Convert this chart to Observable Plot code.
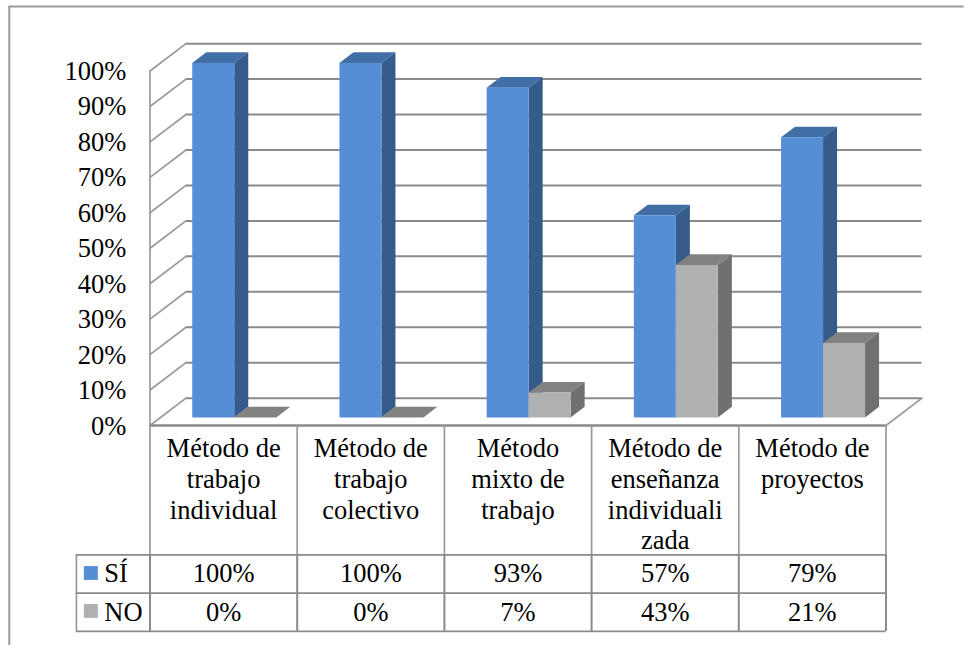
<!DOCTYPE html>
<html><head><meta charset="utf-8">
<style>html,body{margin:0;padding:0;background:#fff;overflow:hidden}svg{display:block}</style>
<script src="https://cdn.jsdelivr.net/npm/d3@7"></script>
<script src="https://cdn.jsdelivr.net/npm/@observablehq/plot@0.6"></script>
</head><body><div id="chart"></div>
<script>
const categories = ["Método de\ntrabajo\nindividual","Método de\ntrabajo\ncolectivo","Método\nmixto de\ntrabajo","Método de\nenseñanza\nindividuali\nzada","Método de\nproyectos"];
const si = [100,100,93,57,79];
const no = [0,0,7,43,21];
const yTicks = [0,10,20,30,40,50,60,70,80,90,100];
const seriesNames = ["SÍ","NO"];
const faces = {
  SI:{front:"#558ed5",top:"#426ea6",side:"#355b8a"},
  NO:{front:"#b0b0b0",top:"#828282",side:"#707070"}
};
// wall depth, in chart units, and the bar placement inside it
const wallX = 0.2446, wallY = 7.72;
const d0 = 0.296, d1 = 0.685, gap = 0.2147, barW = 0.2853;
const px = (c,d)=>c+d*wallX, py=(v,d)=>v+d*wallY;

const polys = [];
function addPoly(id,color,pts){pts.forEach(([c,v,d])=>polys.push({id,color,x:px(c,d),y:py(v,d)}));}
categories.forEach((_,i)=>{
  [["SI",si[i],0],["NO",no[i],1]].forEach(([s,v,k])=>{
    const a=i+gap+k*barW, b=a+barW, f=faces[s], id=`${i}-${s}-`;
    addPoly(id+"top",f.top,[[a,v,d0],[b,v,d0],[b,v,d1],[a,v,d1]]);
    addPoly(id+"side",f.side,[[b,0,d0],[b,v,d0],[b,v,d1],[b,0,d1]]);
    addPoly(id+"front",f.front,[[a,0,d0],[b,0,d0],[b,v,d0],[a,v,d0]]);
  });
});
const backGrid = yTicks.map(v=>({v}));
const walls = yTicks.flatMap(v=>[{id:v,x:px(0,0),y:py(v,0)},{id:v,x:px(0,1),y:py(v,1)}]);
const floorR = [{x:px(5,0),y:0},{x:px(5,1),y:py(0,1)}];
const rowY = {head:-36.5, si:-47.3, no:-58.1, siMid:-41.8, noMid:-52.7};
const legendLeft=-0.5;
const grid="#8a8a8a", font="Liberation Serif", txt="#000";

const plot = Plot.plot({
  width:964,height:645,margin:0,
  x:{type:"linear",domain:[0,5],range:[149.5,885.5],axis:null},
  y:{type:"linear",domain:[0,100],range:[425,70.5],axis:null},
  color:{type:"identity"},
  style:{background:"transparent"},
  marks:[
    // outer frame
    Plot.ruleX([-0.956],{y1:-62.1,y2:118.2,stroke:"#999",strokeWidth:2}),
    Plot.ruleY([118.2],{x1:-0.956,x2:5.53,stroke:"#999",strokeWidth:2}),
    // walls and grid
    Plot.ruleY(backGrid,{y:d=>py(d.v,1),x1:px(0,1),x2:px(5,1),stroke:grid,strokeWidth:2}),
    Plot.line(walls,{x:"x",y:"y",z:"id",stroke:"#9a9a9a",strokeWidth:1.7}),
    Plot.line(floorR,{x:"x",y:"y",stroke:"#9a9a9a",strokeWidth:1.7}),
    Plot.ruleX([0],{y1:0,y2:100,stroke:"#9a9a9a",strokeWidth:1.7}),
    // bars
    Plot.line(polys,{x:"x",y:"y",z:"id",fill:"color",stroke:null}),
    // table
    Plot.ruleY([0],{x1:0,x2:5,stroke:grid,strokeWidth:2.5}),
    Plot.ruleX(d3.range(0,6),{y1:0,y2:rowY.head,stroke:"#999",strokeWidth:1.7}),
    Plot.ruleX(d3.range(0,6),{y1:rowY.head,y2:rowY.no,stroke:grid,strokeWidth:2}),
    Plot.ruleX([legendLeft],{y1:rowY.head,y2:rowY.no,stroke:"#999",strokeWidth:1.7}),
    Plot.ruleY([rowY.head,rowY.si,rowY.no],{x1:legendLeft,x2:5,stroke:grid,strokeWidth:1.8}),
    // y tick labels
    Plot.text(yTicks,{x:-0.161,y:d=>d-0.15,text:d=>d+"%",textAnchor:"end",fontFamily:font,fontSize:26.5,fill:txt}),
    // category labels
    Plot.text(categories,{x:(d,i)=>i+0.5,y:-2.75,text:d=>d,lineAnchor:"top",lineHeight:1.16,fontFamily:font,fontSize:26.5,fill:txt}),
    // values
    Plot.text(si,{x:(d,i)=>i+0.5,y:rowY.siMid,text:d=>d+"%",fontFamily:font,fontSize:26.5,fill:txt}),
    Plot.text(no,{x:(d,i)=>i+0.5,y:rowY.noMid,text:d=>d+"%",fontFamily:font,fontSize:26.5,fill:txt}),
    // legend
    Plot.rect([0],{x1:-0.446,x2:-0.351,y1:-39.8,y2:-43.7,fill:faces.SI.front}),
    Plot.rect([0],{x1:-0.446,x2:-0.351,y1:-50.5,y2:-54.4,fill:faces.NO.front}),
    Plot.text([seriesNames[0]],{x:-0.31,y:rowY.siMid,text:d=>d,textAnchor:"start",fontFamily:font,fontSize:26.5,fill:txt}),
    Plot.text([seriesNames[1]],{x:-0.31,y:rowY.noMid,text:d=>d,textAnchor:"start",fontFamily:font,fontSize:26.5,fill:txt})
  ]
});
document.getElementById("chart").append(plot);
</script></body></html>
